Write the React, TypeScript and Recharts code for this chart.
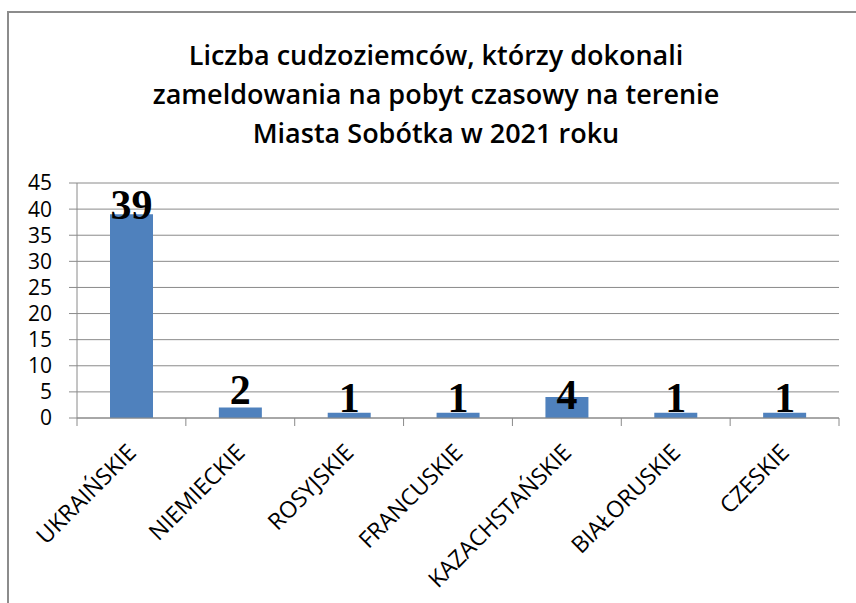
import React from "react";
import { BarChart, Bar, XAxis, YAxis, CartesianGrid } from "recharts";

const categories = [
  "UKRAIŃSKIE",
  "NIEMIECKIE",
  "ROSYJSKIE",
  "FRANCUSKIE",
  "KAZACHSTAŃSKIE",
  "BIAŁORUSKIE",
  "CZESKIE",
];
const values = [39, 2, 1, 1, 4, 1, 1];
const yTicks = [0, 5, 10, 15, 20, 25, 30, 35, 40, 45];
const titleLines = [
  "Liczba cudzoziemców, którzy dokonali",
  "zameldowania na pobyt czasowy na terenie",
  "Miasta Sobótka w 2021 roku",
];

const data = categories.map((name, i) => ({ name, value: values[i] }));

const W = 856;
const H = 603;
const LEFT = 77;
const RIGHT = 17;
const TOP = 183;
const AXIS_H = 185;
const BAND = (W - LEFT - RIGHT) / categories.length;
const GRID = "#8a8a8a";
const SANS = "'Open Sans', 'Noto Sans', sans-serif";
// the original's value labels sit a little unevenly against the bar tops
const labelNudge = [5, -4, -1, -1, 12, -1, -1];

const XTick = (props: any) => {
  const { x, y, payload, index } = props;
  const left = x - BAND / 2;
  const tx = x + 6;
  const ty = y + 36;
  return (
    <g>
      <line x1={left} y1={y} x2={left} y2={y + 8} stroke={GRID} />
      {index === categories.length - 1 && (
        <line x1={x + BAND / 2} y1={y} x2={x + BAND / 2} y2={y + 8} stroke={GRID} />
      )}
      <text
        x={tx}
        y={ty}
        textAnchor="end"
        transform={`rotate(-45 ${tx} ${ty})`}
        fontFamily={SANS}
        fontSize={23}
        fill="#000"
      >
        {payload.value}
      </text>
    </g>
  );
};

const ValueLabel = (props: any) => {
  const { x, y, width, value, index } = props;
  return (
    <text
      x={x + width / 2}
      y={y + (labelNudge[index] ?? 0)}
      textAnchor="middle"
      fill="#000"
      fontSize={42}
      fontWeight="bold"
      fontFamily="'Liberation Serif', 'Times New Roman', serif"
    >
      {value}
    </text>
  );
};

export default function App() {
  return (
    <div style={{ position: "absolute", left: 0, top: 0, width: W, height: H, background: "#fff" }}>
      <div
        style={{
          position: "absolute",
          left: 7,
          top: 11,
          width: W - 9,
          height: H - 11,
          borderTop: "2px solid #8c8c8c",
          borderLeft: "2px solid #8c8c8c",
        }}
      />
      <div
        style={{
          position: "absolute",
          left: 0,
          top: 35,
          width: 872,
          textAlign: "center",
          fontFamily: SANS,
          fontWeight: 600,
          fontSize: 27,
          lineHeight: "39px",
          color: "#000",
        }}
      >
        {titleLines.map((l) => (
          <div key={l}>{l}</div>
        ))}
      </div>
      <BarChart
        width={W}
        height={H}
        data={data}
        margin={{ top: TOP, right: RIGHT, bottom: 0, left: 0 }}
        style={{ position: "absolute", left: 0, top: 0 }}
      >
        <CartesianGrid vertical={false} stroke={GRID} />
        <XAxis
          dataKey="name"
          interval={0}
          height={AXIS_H}
          tickLine={false}
          tickSize={0}
          tickMargin={0}
          axisLine={{ stroke: GRID }}
          tick={<XTick />}
        />
        <YAxis
          width={LEFT}
          domain={[0, 45]}
          ticks={yTicks}
          interval={0}
          tickSize={8}
          tickMargin={17}
          axisLine={{ stroke: GRID }}
          tickLine={{ stroke: GRID }}
          tick={{ fill: "#000", fontSize: 21, fontFamily: SANS }}
        />
        <Bar
          dataKey="value"
          fill="#4F81BD"
          barSize={43}
          isAnimationActive={false}
          label={<ValueLabel />}
        />
      </BarChart>
    </div>
  );
}
